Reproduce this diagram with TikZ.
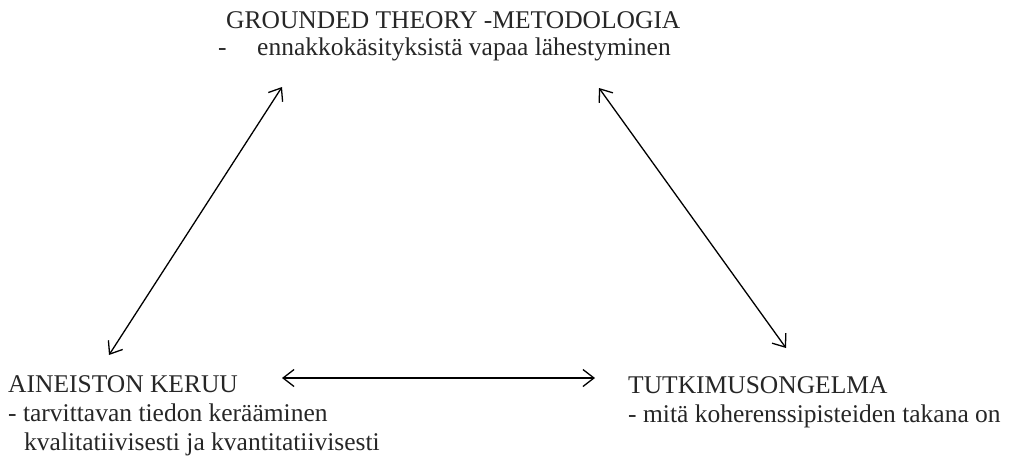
\documentclass[tikz,border=0pt]{standalone}
\usepackage{fontspec}
\setmainfont{Liberation Serif}
\usetikzlibrary{arrows.meta}

\begin{document}
\begin{tikzpicture}[x=1pt, y=-1pt,
    lbl/.style={anchor=base west, inner sep=0pt, text=black!85,
      font=\fontsize{25.5pt}{29pt}\selectfont},
    link/.style={{Straight Barb[length=11pt,width=17pt]}-{Straight Barb[length=11pt,width=17pt]},
      line width=1.3pt}]
    \useasboundingbox (0,0) rectangle (1019,456);

    % Top corner
    \node[lbl] (gt) at (226,28) {GROUNDED THEORY -METODOLOGIA};
    \node[lbl] (gt-dash) at (218,55) {-};
    \node[lbl] (gt-sub) at (257,55) {ennakkokäsityksistä vapaa lähestyminen};

    % Bottom left corner
    \node[lbl] (ak) at (8,392) {AINEISTON KERUU};
    \node[lbl] (ak-sub) at (8,421) {- tarvittavan tiedon kerääminen};
    \node[lbl] (ak-sub2) at (24,450) {kvalitatiivisesti ja kvantitatiivisesti};

    % Bottom right corner
    \node[lbl] (tk) at (628,393) {TUTKIMUSONGELMA};
    \node[lbl] (tk-sub) at (628,422) {- mitä koherenssipisteiden takana on};

    % Arrow ends
    \coordinate (gt-l) at (282,87);
    \coordinate (gt-r) at (599,88);
    \coordinate (ak-t) at (109,355);
    \coordinate (ak-r) at (282,378);
    \coordinate (tk-t) at (786,348);
    \coordinate (tk-l) at (595,378);

    % Links
    \draw[link] (gt-l) -- (ak-t);
    \draw[link] (gt-r) -- (tk-t);
    \draw[link] (ak-r) -- (tk-l);
\end{tikzpicture}
\end{document}
